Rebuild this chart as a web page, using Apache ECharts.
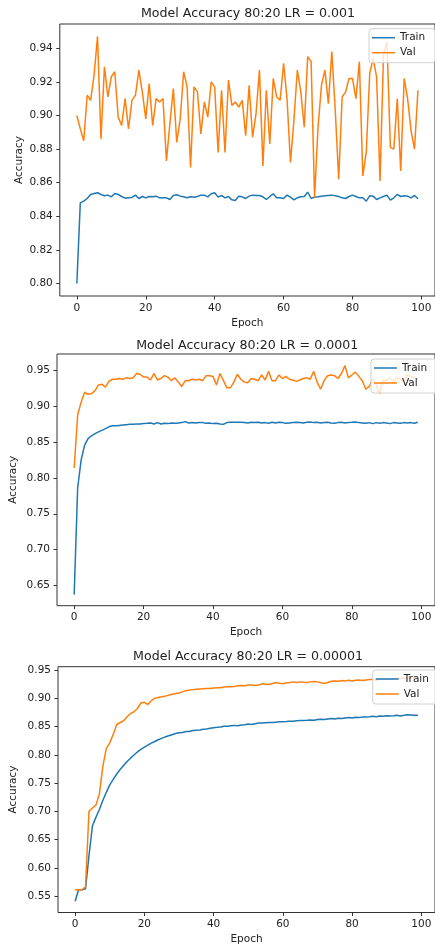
<!DOCTYPE html>
<html>
<head>
<meta charset="utf-8">
<script src="https://cdn.jsdelivr.net/npm/echarts@6/dist/echarts.min.js"></script>
<style>
  html, body { margin: 0; padding: 0; background: #fff; }
  #main { width: 435px; height: 946px; }
</style>
</head>
<body>
<div id="main"></div>
<script>
// epochs 0..99
const epochs = Array.from({ length: 100 }, (_, i) => i);

// LR = 0.001
const train001 = [
  0.800, 0.848, 0.849, 0.8506, 0.853, 0.8536, 0.854, 0.853, 0.8522, 0.8526,
  0.8516, 0.8536, 0.853, 0.8518, 0.8508, 0.851, 0.8512, 0.8526, 0.8506, 0.8518,
  0.851, 0.8518, 0.8516, 0.852, 0.851, 0.851, 0.851, 0.850, 0.8524, 0.8528,
  0.852, 0.8516, 0.851, 0.8516, 0.8514, 0.8518, 0.8526, 0.8526, 0.8516, 0.8534,
  0.854, 0.8514, 0.8524, 0.851, 0.8518, 0.8498, 0.8494, 0.852, 0.8516, 0.8506,
  0.852, 0.8526, 0.8524, 0.8524, 0.8516, 0.850, 0.8518, 0.8534, 0.851, 0.851,
  0.8506, 0.8526, 0.8514, 0.8498, 0.851, 0.8516, 0.8518, 0.8544, 0.8506, 0.8514,
  0.8516, 0.852, 0.8522, 0.8524, 0.8526, 0.8522, 0.8518, 0.851, 0.8506, 0.8518,
  0.8526, 0.8518, 0.851, 0.851, 0.849, 0.8522, 0.852, 0.850, 0.851, 0.8518,
  0.8526, 0.8496, 0.851, 0.853, 0.8518, 0.8522, 0.852, 0.851, 0.8524, 0.8504
];
const val001 = [
  0.900, 0.892, 0.885, 0.912, 0.909, 0.924, 0.947, 0.886, 0.929, 0.911,
  0.923, 0.926, 0.899, 0.894, 0.910, 0.892, 0.909, 0.912, 0.927, 0.914,
  0.898, 0.919, 0.894, 0.910, 0.908, 0.910, 0.873, 0.895, 0.916, 0.884,
  0.898, 0.926, 0.917, 0.869, 0.917, 0.914, 0.889, 0.908, 0.899, 0.920,
  0.917, 0.878, 0.915, 0.878, 0.921, 0.906, 0.908, 0.905, 0.909, 0.888,
  0.918, 0.887, 0.901, 0.927, 0.870, 0.915, 0.883, 0.922, 0.911, 0.909,
  0.931, 0.910, 0.872, 0.897, 0.927, 0.914, 0.893, 0.935, 0.932, 0.851,
  0.893, 0.918, 0.927, 0.907, 0.938, 0.903, 0.862, 0.911, 0.914, 0.922,
  0.922, 0.910, 0.932, 0.864, 0.878, 0.925, 0.934, 0.923, 0.861, 0.936,
  0.944, 0.881, 0.880, 0.910, 0.867, 0.922, 0.910, 0.891, 0.880, 0.915
];

// LR = 0.0001
const train0001 = [
  0.637, 0.786, 0.825, 0.846, 0.855, 0.859, 0.862, 0.8645, 0.8665, 0.869,
  0.8715, 0.873, 0.873, 0.8735, 0.874, 0.8745, 0.875, 0.875, 0.8755, 0.8755,
  0.876, 0.8764, 0.8769, 0.8755, 0.8774, 0.8755, 0.8764, 0.876, 0.8769, 0.8764,
  0.8769, 0.8774, 0.8788, 0.8769, 0.8774, 0.8769, 0.8774, 0.8774, 0.8764, 0.8769,
  0.876, 0.8764, 0.8755, 0.875, 0.8774, 0.8778, 0.8778, 0.8778, 0.8778, 0.8774,
  0.8769, 0.8778, 0.8774, 0.8778, 0.8769, 0.8774, 0.8764, 0.8778, 0.8769, 0.8778,
  0.8774, 0.8764, 0.8769, 0.8774, 0.8778, 0.8774, 0.8769, 0.8778, 0.8783, 0.8774,
  0.8778, 0.8769, 0.8774, 0.8778, 0.8769, 0.8764, 0.8774, 0.8778, 0.8769, 0.8774,
  0.8778, 0.8783, 0.8774, 0.8769, 0.8764, 0.8774, 0.876, 0.8774, 0.8764, 0.8774,
  0.8769, 0.876, 0.8774, 0.8769, 0.8764, 0.8774, 0.8769, 0.8774, 0.8764, 0.8778
];
const val0001 = [
  0.814, 0.888, 0.906, 0.920, 0.917, 0.918, 0.922, 0.930, 0.931, 0.927,
  0.935, 0.938, 0.938, 0.939, 0.938, 0.940, 0.939, 0.940, 0.946, 0.945,
  0.941, 0.941, 0.937, 0.946, 0.937, 0.939, 0.943, 0.941, 0.936, 0.940,
  0.934, 0.928, 0.936, 0.936, 0.938, 0.937, 0.938, 0.936, 0.943, 0.943,
  0.942, 0.930, 0.946, 0.936, 0.926, 0.926, 0.934, 0.945, 0.938, 0.934,
  0.933, 0.939, 0.938, 0.936, 0.944, 0.937, 0.949, 0.936, 0.936, 0.944,
  0.939, 0.942, 0.938, 0.937, 0.935, 0.937, 0.939, 0.940, 0.938, 0.949,
  0.934, 0.924, 0.936, 0.943, 0.944, 0.943, 0.939, 0.946, 0.957, 0.940,
  0.944, 0.948, 0.942, 0.936, 0.924, 0.928, 0.938, 0.930, 0.918, 0.937,
  0.936, 0.940, 0.934, 0.941, 0.938, 0.935, 0.944, 0.942, 0.940, 0.937
];

// LR = 0.00001
const train00001 = [
  0.5414, 0.5616, 0.5616, 0.5633, 0.622, 0.6746, 0.6895, 0.7033, 0.7193, 0.7337,
  0.7469, 0.7566, 0.766, 0.774, 0.781, 0.788, 0.794, 0.7995, 0.805, 0.8095,
  0.8135, 0.817, 0.8205, 0.8235, 0.8265, 0.829, 0.8315, 0.8335, 0.8355, 0.8375,
  0.839, 0.8395, 0.841, 0.841, 0.8427, 0.8433, 0.8438, 0.845, 0.8455, 0.8467,
  0.8479, 0.8484, 0.849, 0.8502, 0.8502, 0.8513, 0.8519, 0.8513, 0.8525, 0.853,
  0.8542, 0.8536, 0.8548, 0.8559, 0.8559, 0.8565, 0.857, 0.857, 0.8576, 0.8582,
  0.8582, 0.8587, 0.8593, 0.8593, 0.8599, 0.8605, 0.8605, 0.861, 0.8616, 0.861,
  0.8622, 0.8628, 0.8622, 0.8633, 0.8639, 0.8633, 0.8645, 0.8639, 0.865, 0.8656,
  0.865, 0.8662, 0.8656, 0.8668, 0.8668, 0.8673, 0.8679, 0.8673, 0.8685, 0.8679,
  0.869, 0.8685, 0.869, 0.8696, 0.8685, 0.8696, 0.8708, 0.8702, 0.8696, 0.8696
];
const val00001 = [
  0.5616, 0.5616, 0.5616, 0.567, 0.700, 0.706, 0.711, 0.731, 0.7796, 0.811,
  0.821, 0.836, 0.853, 0.857, 0.860, 0.867, 0.873, 0.876, 0.8817, 0.8914,
  0.8926, 0.8886, 0.8954, 0.900, 0.9012, 0.9023, 0.9035, 0.9052, 0.907, 0.9081,
  0.9092, 0.911, 0.9132, 0.9144, 0.9149, 0.9155, 0.9161, 0.9167, 0.9172, 0.9172,
  0.9178, 0.9184, 0.9184, 0.9195, 0.9201, 0.9201, 0.9207, 0.9218, 0.9224, 0.9218,
  0.923, 0.923, 0.9224, 0.923, 0.9253, 0.9247, 0.9241, 0.9258, 0.9276, 0.9264,
  0.9253, 0.927, 0.9276, 0.9287, 0.9276, 0.9287, 0.9281, 0.9276, 0.9287, 0.9293,
  0.9287, 0.927, 0.9258, 0.9276, 0.9299, 0.9304, 0.9299, 0.931, 0.9304, 0.9316,
  0.9304, 0.9316, 0.9322, 0.931, 0.9322, 0.9327, 0.9333, 0.9316, 0.9339, 0.9333,
  0.9345, 0.9339, 0.9345, 0.935, 0.9345, 0.9356, 0.9345, 0.9356, 0.9362, 0.9356
];

const titles = [
  "Model Accuracy 80:20 LR = 0.001",
  "Model Accuracy 80:20 LR = 0.0001",
  "Model Accuracy 80:20 LR = 0.00001"
];
const xTicks = [0, 20, 40, 60, 80, 100];
const yTicks = [
  [0.80, 0.82, 0.84, 0.86, 0.88, 0.90, 0.92, 0.94],
  [0.65, 0.70, 0.75, 0.80, 0.85, 0.90, 0.95],
  [0.55, 0.60, 0.65, 0.70, 0.75, 0.80, 0.85, 0.90, 0.95]
];
const yRange = [[0.7926, 0.9544], [0.6215, 0.9733], [0.5215, 0.9555]];

const trainColor = "#1f77b4";
const valColor = "#ff7f0e";
const font = "DejaVu Sans";
const ink = "#222";

// panel boxes (pixels), matplotlib axes
const panels = [
  { left: 59.8, top: 24, width: 378.4, height: 272, titleTop: 7.5, legendLeft: 369, legendTop: 28.7 },
  { left: 54.7, top: 354, width: 387, height: 251.7, titleTop: 339, legendLeft: 371, legendTop: 359 },
  { left: 55.1, top: 666.7, width: 388, height: 251.6, titleTop: 650.5, legendLeft: 372.7, legendTop: 670 }
];
const yNameGap = [35.5, 38, 39];

const sets = [[train001, val001], [train0001, val0001], [train00001, val00001]];

const chart = echarts.init(document.getElementById("main"), null, { renderer: "canvas" });

const grid = [], xAxis = [], yAxis = [], title = [], legend = [], series = [];
panels.forEach((p, i) => {
  grid.push({
    left: p.left, top: p.top, width: p.width, height: p.height,
    show: true, borderColor: "#333", borderWidth: 1, backgroundColor: "#fff"
  });
  title.push({
    text: titles[i], left: p.left + p.width / 2 - 1, top: p.titleTop, textAlign: "center", padding: 0,
    textStyle: { fontFamily: font, fontSize: 12.6, fontWeight: "normal", color: ink }
  });
  xAxis.push({
    type: "value", gridIndex: i, min: -4.95, max: 103.95,
    name: "Epoch", nameLocation: "middle", nameGap: 21.5, nameMoveOverlap: false,
    nameTextStyle: { fontFamily: font, fontSize: 10.5, color: ink },
    axisLine: { show: false, onZero: false },
    axisTick: { show: true, customValues: xTicks, length: 3.5, lineStyle: { color: "#333" } },
    axisLabel: { customValues: xTicks, margin: 6.5, fontFamily: font, fontSize: 10.5, color: ink },
    splitLine: { show: false }
  });
  yAxis.push({
    type: "value", gridIndex: i, min: yRange[i][0], max: yRange[i][1],
    name: "Accuracy", nameLocation: "middle", nameGap: yNameGap[i], nameMoveOverlap: false,
    nameTextStyle: { fontFamily: font, fontSize: 10.5, color: ink },
    axisLine: { show: false, onZero: false },
    axisTick: { show: true, customValues: yTicks[i], length: 3.5, lineStyle: { color: "#333" } },
    axisLabel: {
      customValues: yTicks[i], margin: 7, fontFamily: font, fontSize: 10.5, color: ink,
      formatter: v => v.toFixed(2)
    },
    splitLine: { show: false }
  });
  legend.push({
    data: ["Train", "Val"], orient: "vertical",
    left: p.legendLeft, top: p.legendTop,
    icon: "rect", itemWidth: 23, itemHeight: 1.5, itemGap: 3,
    padding: [3, 10, 4, 3],
    backgroundColor: "rgba(255,255,255,0.8)",
    borderColor: "#d0d0d0", borderWidth: 1, borderRadius: 3,
    textStyle: { fontFamily: font, fontSize: 10.5, color: ink, lineHeight: 12 },
    selectedMode: false
  });
  const [tr, va] = sets[i];
  series.push({
    name: "Train", type: "line", xAxisIndex: i, yAxisIndex: i,
    data: epochs.map(e => [e, tr[e]]),
    symbol: "none", lineStyle: { color: trainColor, width: 1.5 }, itemStyle: { color: trainColor }
  });
  series.push({
    name: "Val", type: "line", xAxisIndex: i, yAxisIndex: i,
    data: epochs.map(e => [e, va[e]]),
    symbol: "none", lineStyle: { color: valColor, width: 1.5 }, itemStyle: { color: valColor }
  });
});

chart.setOption({
  animation: false,
  backgroundColor: "#fff",
  title, grid, xAxis, yAxis, legend, series
});
</script>
</body>
</html>
